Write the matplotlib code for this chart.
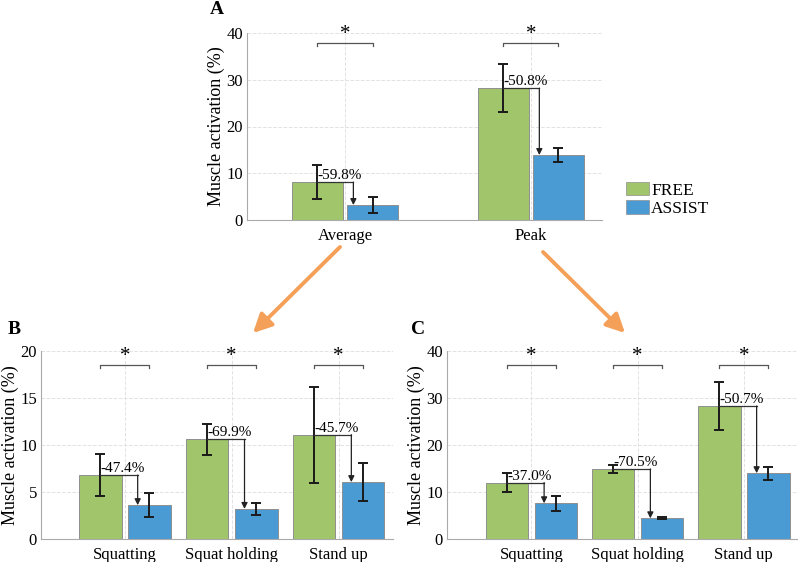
import matplotlib
matplotlib.use('Agg')
import matplotlib.pyplot as plt
import numpy as np
from matplotlib.patches import Patch, FancyArrowPatch

plt.rcParams['font.family'] = ['Liberation Serif', 'DejaVu Serif']

# Panel A
cats_a = ['Average', 'Peak']
free_a = [8.1, 28.2]
free_a_sd = [3.65, 5.2]
assist_a = [3.2, 13.9]
assist_a_sd = [1.65, 1.4]
pct_a = ['-59.8%', '-50.8%']

# Panel B
cats_b = ['Squatting', 'Squat holding', 'Stand up']
free_b = [6.8, 10.6, 11.1]
free_b_sd = [2.2, 1.65, 5.1]
assist_b = [3.6, 3.2, 6.05]
assist_b_sd = [1.3, 0.65, 2.0]
pct_b = ['-47.4%', '-69.9%', '-45.7%']

# Panel C
cats_c = ['Squatting', 'Squat holding', 'Stand up']
free_c = [12.0, 14.9, 28.3]
free_c_sd = [2.0, 0.8, 5.1]
assist_c = [7.6, 4.4, 14.0]
assist_c_sd = [1.65, 0.2, 1.35]
pct_c = ['-37.0%', '-70.5%', '-50.7%']

GREEN = '#A0C56B'
BLUE = '#4A9BD3'
ORANGE = '#F5A058'
W, H = 798, 562


def panel(fig, rect, cats, free, free_sd, assist, assist_sd, pcts,
          ymax, ystep, xlim, width, off, arr_off, brk_y, star_y, tick_h):
    ax = fig.add_axes(rect)
    x = np.arange(1, len(cats) + 1)
    ekw = dict(ecolor='#1a1a1a', elinewidth=1.4, capsize=3.5, capthick=1.4)
    ax.bar(x - off, free, width, color=GREEN, edgecolor='#8f8f8f',
           linewidth=0.7, zorder=2)
    ax.bar(x + off, assist, width, color=BLUE, edgecolor='#8f8f8f',
           linewidth=0.7, zorder=2)
    ax.errorbar(x - off, free, yerr=free_sd, fmt='none', zorder=4, **ekw)
    ax.errorbar(x + off, assist, yerr=assist_sd, fmt='none', zorder=4, **ekw)

    for i in range(len(cats)):
        xf = x[i] - off
        xa = x[i] + off - width / 2 + arr_off
        ax.plot([xf, xa], [free[i], free[i]], color='#333333', lw=0.9,
                zorder=5)
        ax.annotate('', xy=(xa, assist[i]), xytext=(xa, free[i]),
                    arrowprops=dict(arrowstyle='-|>', color='#222222',
                                    lw=0.9, mutation_scale=9,
                                    shrinkA=0, shrinkB=0),
                    zorder=5)
        ax.text(xf, free[i], pcts[i], ha='left', va='bottom',
                fontsize=11, zorder=6)
        # significance bracket
        ax.plot([xf, xf, x[i] + off, x[i] + off],
                [brk_y - tick_h, brk_y, brk_y, brk_y - tick_h],
                color='#555555', lw=0.9, clip_on=False)
        ax.text(x[i], star_y, '*', ha='center', va='center', fontsize=15,
                clip_on=False)

    ax.set_xlim(*xlim)
    ax.set_ylim(0, ymax)
    ax.set_xticks(x)
    ax.set_xticklabels(cats, fontsize=12)
    ax.set_yticks(np.arange(0, ymax + 1, ystep))
    ax.tick_params(labelsize=12, length=0)
    ax.tick_params(axis='y', pad=3)
    ax.tick_params(axis='x', pad=6)
    ax.set_ylabel('Muscle activation (%)', fontsize=13)
    ax.yaxis.set_label_coords(-22 / (rect[2] * W), 0.5)
    ax.grid(True, linestyle='--', color='#e2e2e2', lw=0.7)
    ax.set_axisbelow(True)
    for s in ['top', 'right']:
        ax.spines[s].set_visible(False)
    for s in ['left', 'bottom']:
        ax.spines[s].set_color('#aaaaaa')
    return ax


def main():
    fig = plt.figure(figsize=(W / 100, H / 100), dpi=100)

    panel(fig, [247 / W, 1 - 220 / H, 355 / W, 187 / H], cats_a,
          free_a, free_a_sd, assist_a, assist_a_sd, pct_a,
          40, 10, (0.473, 2.382), 0.27, 0.148, 0.032, 37.9, 39.6, 0.7)
    panel(fig, [41 / W, 1 - 539 / H, 352 / W, 188 / H], cats_b,
          free_b, free_b_sd, assist_b, assist_b_sd, pct_b,
          20, 5, (0.215, 3.51), 0.40, 0.23, 0.09, 18.5, 19.4, 0.35)
    panel(fig, [447 / W, 1 - 539 / H, 350 / W, 188 / H], cats_c,
          free_c, free_c_sd, assist_c, assist_c_sd, pct_c,
          40, 10, (0.206, 3.5), 0.40, 0.23, 0.09, 37.0, 38.8, 0.7)

    # Panel letters
    for lab, px, py in [('A', 217, 10), ('B', 14, 330), ('C', 418, 330)]:
        fig.text(px / W, 1 - py / H, lab, ha='center', va='center',
                 fontsize=14, fontweight='bold')

    # Orange arrows linking A to B and C
    for (x0, y0), (x1, y1) in [((340, 247), (253, 333)),
                               ((543, 252), (625, 333))]:
        fig.add_artist(FancyArrowPatch(
            (x0 / W, 1 - y0 / H), (x1 / W, 1 - y1 / H),
            transform=fig.transFigure, arrowstyle='-|>', mutation_scale=28,
            color=ORANGE, lw=2.8, shrinkA=0, shrinkB=0))

    handles = [Patch(facecolor=GREEN, edgecolor='#8f8f8f', lw=0.5),
               Patch(facecolor=BLUE, edgecolor='#8f8f8f', lw=0.5)]
    fig.legend(handles, ['FREE', 'ASSIST'], loc='upper left',
               bbox_to_anchor=(626 / W, 1 - 182 / H), frameon=False,
               fontsize=12.5, handlelength=1.3, handleheight=0.8,
               handletextpad=0.15, labelspacing=0.1, borderpad=0,
               borderaxespad=0)

    fig.savefig('out.png', dpi=100)


if __name__ == '__main__':
    main()
